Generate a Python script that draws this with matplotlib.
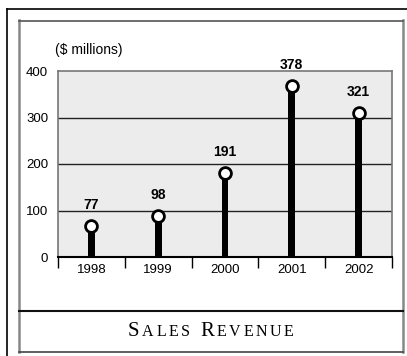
import matplotlib
matplotlib.use("Agg")
import matplotlib.pyplot as plt
from matplotlib.lines import Line2D
from matplotlib.transforms import offset_copy

years = ["1998", "1999", "2000", "2001", "2002"]
revenue = [77, 98, 191, 378, 321]
y_ticks = [0, 100, 200, 300, 400]
unit_label = "($ millions)"
title_parts = [("S", True), ("ALES", False), (" ", True), ("R", True), ("EVENUE", False)]

W, H = 407, 356
fig = plt.figure(figsize=(W / 100, H / 100), dpi=100)
sans = ["Liberation Sans", "DejaVu Sans"]
serif = ["Liberation Serif", "DejaVu Serif"]

def fx(px):
    return px / W

def fy(py):
    return 1 - py / H

ax = fig.add_axes([fx(58), fy(257), fx(392) - fx(58), fy(71) - fy(257)])
ax.set_facecolor("#ececec")
x = list(range(len(years)))
ax.set_xlim(-0.5, len(years) - 0.5)
ax.set_ylim(0, 400)

for v in y_ticks[1:-1]:
    ax.axhline(v, color="#222222", lw=1.0, zorder=1)

ax.bar(x, revenue, width=0.1, color="black", zorder=2)
mk_tr = offset_copy(ax.transData, fig=fig, x=0, y=-5, units="dots")
ax.plot(x, revenue, linestyle="none", marker="o", markersize=8.5,
        markerfacecolor="white", markeredgecolor="black", markeredgewidth=2.0,
        transform=mk_tr, zorder=3, clip_on=False)
lab_tr = offset_copy(ax.transData, fig=fig, x=0, y=9, units="dots")
for xi, v in zip(x, revenue):
    ax.text(xi, v, str(v), transform=lab_tr, ha="center", va="bottom",
            fontsize=10, fontweight="bold", family=sans, clip_on=False)

for s in ["top", "right", "left"]:
    ax.spines[s].set_color("#777777")
    ax.spines[s].set_linewidth(1.2)
ax.spines["bottom"].set_color("black")
ax.spines["bottom"].set_linewidth(1.5)

ax.set_yticks(y_ticks)
ax.set_yticklabels([str(t) for t in y_ticks], family=sans, fontsize=9.5)
ax.tick_params(axis="y", length=0, pad=7)

ax.set_xticks([i - 0.5 for i in range(len(years) + 1)], minor=False)
ax.set_xticklabels([])
ax.tick_params(axis="x", which="major", length=8, width=1.0, color="black", direction="out")
ax.set_xticks(x, minor=True)
ax.set_xticklabels(years, minor=True, family=sans, fontsize=9.5)
ax.tick_params(axis="x", which="minor", length=0, pad=5)

fig.text(fx(55), fy(50), unit_label, ha="left", va="center", family=sans, fontsize=10)

# frames
fig.add_artist(Line2D([fx(7), fx(7)], [fy(9), 0], color="black", lw=1.2))
fig.add_artist(Line2D([fx(7), 1], [fy(9), fy(9)], color="black", lw=1.2))
gray = "#888888"
fig.add_artist(Line2D([fx(19), fx(19)], [fy(20), fy(352)], color=gray, lw=1.8))
fig.add_artist(Line2D([fx(402.5), fx(402.5)], [fy(20), fy(352)], color=gray, lw=1.8))
fig.add_artist(Line2D([fx(19), fx(402.5)], [fy(20.5), fy(20.5)], color="#555555", lw=1.2))
fig.add_artist(Line2D([fx(19), fx(402.5)], [fy(352), fy(352)], color="#444444", lw=1.2))
fig.add_artist(Line2D([fx(19), fx(402.5)], [fy(311), fy(311)], color="#111111", lw=1.5))

# small caps title with letter tracking
renderer = fig.canvas.get_renderer()
tracking = 2.6
texts = []
for part, big in title_parts:
    size = 15 if big else 11.5
    for ch in part:
        t = fig.text(0, fy(336), ch, family=serif, fontsize=size, va="baseline", ha="left")
        texts.append(t)
widths = [t.get_window_extent(renderer).width for t in texts]
total = sum(widths) + tracking * (len(texts) - 1)
cur = (19 + 402.5) / 2 - total / 2
for t, w in zip(texts, widths):
    t.set_x(cur / W)
    cur += w + tracking

fig.savefig("out.png", dpi=100)
